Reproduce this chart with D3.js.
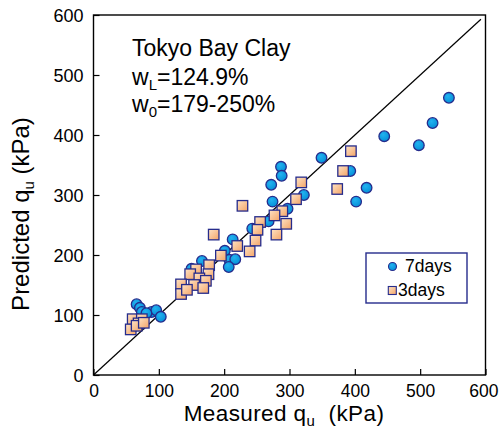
<!DOCTYPE html>
<html>
<head>
<meta charset="utf-8">
<script src="https://cdn.jsdelivr.net/npm/d3@7"></script>
<style>
  html, body { margin: 0; padding: 0; background: #fff; }
  svg { display: block; font-family: "Liberation Sans", Arial, sans-serif; }
</style>
</head>
<body>
<svg id="chart" width="499" height="433"></svg>
<script>
// ---- data ----
const xTicks = [0, 100, 200, 300, 400, 500, 600];
const yTicks = [0, 100, 200, 300, 400, 500, 600];
const series7Measured = [544, 519, 445, 498, 349, 393, 418, 402, 287, 288, 272, 322, 274, 297, 268, 243, 213, 201, 208, 217, 166, 207, 150, 158, 66, 71, 74, 89, 96, 103, 81];
const series7Predicted = [462, 420, 398, 383, 362, 340, 312, 289, 347, 332, 317, 300, 289, 277, 256, 244, 226, 207, 192, 193, 190, 180, 177, 167, 118, 112, 105, 105, 108, 97, 103];
const series3Measured = [394, 382, 373, 318, 310, 228, 289, 277, 295, 255, 251, 280, 248, 184, 220, 239, 195, 177, 157, 148, 176, 162, 172, 134, 154, 168, 134, 143, 60, 74, 69, 57, 66, 77];
const series3Predicted = [373, 340, 310, 321, 293, 282, 273, 266, 252, 255, 242, 234, 224, 234, 215, 206, 199, 183, 176, 168, 168, 161, 157, 151, 150, 145, 135, 142, 93, 93, 86, 76, 82, 87];
const legendLabels = ["7days", "3days"];

// ---- layout ----
const svg = d3.select("#chart");
const L = 93.5, R = 485.5, T = 15, B = 375;
const x = d3.scaleLinear().domain([0, 600]).range([L, R]);
const y = d3.scaleLinear().domain([0, 600]).range([B, T]);
const navy = "#262c8c";

const defs = svg.append("defs");
const cg = defs.append("radialGradient").attr("id", "cgrad").attr("cx", "40%").attr("cy", "35%").attr("r", "65%");
cg.append("stop").attr("offset", "0%").attr("stop-color", "#22b2f0");
cg.append("stop").attr("offset", "100%").attr("stop-color", "#0690d8");
const sg = defs.append("linearGradient").attr("id", "sgrad").attr("x1", "0").attr("y1", "0").attr("x2", "1").attr("y2", "1");
sg.append("stop").attr("offset", "0%").attr("stop-color", "#fde3c6");
sg.append("stop").attr("offset", "100%").attr("stop-color", "#f4a466");

defs.append("clipPath").attr("id", "clip").append("rect")
  .attr("x", L).attr("y", T).attr("width", R - L).attr("height", B - T);

// 1:1 line
svg.append("line")
  .attr("x1", x(0)).attr("y1", y(0)).attr("x2", x(593)).attr("y2", y(593))
  .attr("stroke", "#000").attr("stroke-width", 1.2);

// axes (inward ticks)
const xAxis = d3.axisBottom(x).tickValues(xTicks).tickSizeInner(-6).tickSizeOuter(0).tickPadding(8);
const yAxis = d3.axisLeft(y).tickValues(yTicks).tickSizeInner(-6).tickSizeOuter(0).tickPadding(10);
const gx = svg.append("g").attr("transform", `translate(0,${B})`).call(xAxis);
const gy = svg.append("g").attr("transform", `translate(${L},0)`).call(yAxis);
[gx, gy].forEach(g => {
  g.select(".domain").remove();
  g.selectAll(".tick line").attr("stroke", "#000").attr("stroke-width", 1.2);
  g.selectAll(".tick text").attr("fill", "#000").style("font-size", "18px")
    .style("font-family", '"Liberation Sans", Arial, sans-serif');
});
gx.selectAll(".tick text").style("font-size", "17.5px").attr("dy", "0").attr("y", 21.5);
gx.selectAll(".tick text").filter(d => d === 600).attr("text-anchor", "end").attr("x", 498 - x(600));
gy.selectAll(".tick text").attr("x", -10).attr("dy", "0.36em");

// frame
svg.append("rect").attr("x", L).attr("y", T).attr("width", R - L).attr("height", B - T)
  .attr("fill", "none").attr("stroke", "#000").attr("stroke-width", 1.4);

// points
const plot = svg.append("g").attr("clip-path", "url(#clip)");
const d7 = series7Measured.map((m, i) => ({ m, p: series7Predicted[i] }));
const d3s = series3Measured.map((m, i) => ({ m, p: series3Predicted[i] }));
plot.selectAll("circle.p7").data(d7).join("circle").attr("class", "p7")
  .attr("cx", d => x(d.m)).attr("cy", d => y(d.p)).attr("r", 5.3)
  .attr("fill", "url(#cgrad)").attr("stroke", navy).attr("stroke-width", 1.3);
const S = 10.5;
plot.selectAll("rect.p3").data(d3s).join("rect").attr("class", "p3")
  .attr("x", d => x(d.m) - S / 2).attr("y", d => y(d.p) - S / 2).attr("width", S).attr("height", S)
  .attr("fill", "url(#sgrad)").attr("stroke", navy).attr("stroke-width", 1.3);

// annotation text
const ann = svg.append("g").style("font-size", "23px").attr("fill", "#000");
ann.append("text").attr("x", 132).attr("y", 56).text("Tokyo Bay Clay");
const t2 = ann.append("text").attr("x", 132).attr("y", 85);
t2.append("tspan").text("w");
t2.append("tspan").attr("dy", 5).style("font-size", "15px").text("L");
t2.append("tspan").attr("dy", -5).text("=124.9%");
const t3 = ann.append("text").attr("x", 132).attr("y", 112);
t3.append("tspan").text("w");
t3.append("tspan").attr("dy", 5).style("font-size", "15px").text("0");
t3.append("tspan").attr("dy", -5).text("=179-250%");

// axis titles
const xt = svg.append("text").attr("x", 284).attr("y", 421).attr("text-anchor", "middle")
  .style("font-size", "22.5px").style("letter-spacing", "0.4px").attr("fill", "#000");
xt.append("tspan").text("Measured q");
xt.append("tspan").attr("dy", 5).style("font-size", "15px").text("u");
xt.append("tspan").attr("dy", -5).text("\u00a0 (kPa)");

const yt = svg.append("text").attr("transform", `translate(28.5,214) rotate(-90)`)
  .attr("text-anchor", "middle").style("font-size", "24px").attr("fill", "#000");
yt.append("tspan").text("Predicted q");
yt.append("tspan").attr("dy", 5).style("font-size", "15px").text("u");
yt.append("tspan").attr("dy", -5).text(" (kPa)");

// legend
const lg = svg.append("g");
lg.append("rect").attr("x", 366).attr("y", 253).attr("width", 101).attr("height", 50)
  .attr("fill", "#fff").attr("stroke", navy).attr("stroke-width", 1.4);
lg.append("circle").attr("cx", 392.5).attr("cy", 266.5).attr("r", 4)
  .attr("fill", "url(#cgrad)").attr("stroke", navy).attr("stroke-width", 1.1);
lg.append("text").attr("x", 405).attr("y", 271.5).style("font-size", "17.5px").attr("fill", "#000").text(legendLabels[0]);
lg.append("rect").attr("x", 392.3 - 4).attr("y", 290.5 - 4).attr("width", 8).attr("height", 8)
  .attr("fill", "url(#sgrad)").attr("stroke", navy).attr("stroke-width", 1.1);
lg.append("text").attr("x", 398).attr("y", 295.5).style("font-size", "17.5px").attr("fill", "#000").text(legendLabels[1]);
</script>
</body>
</html>
